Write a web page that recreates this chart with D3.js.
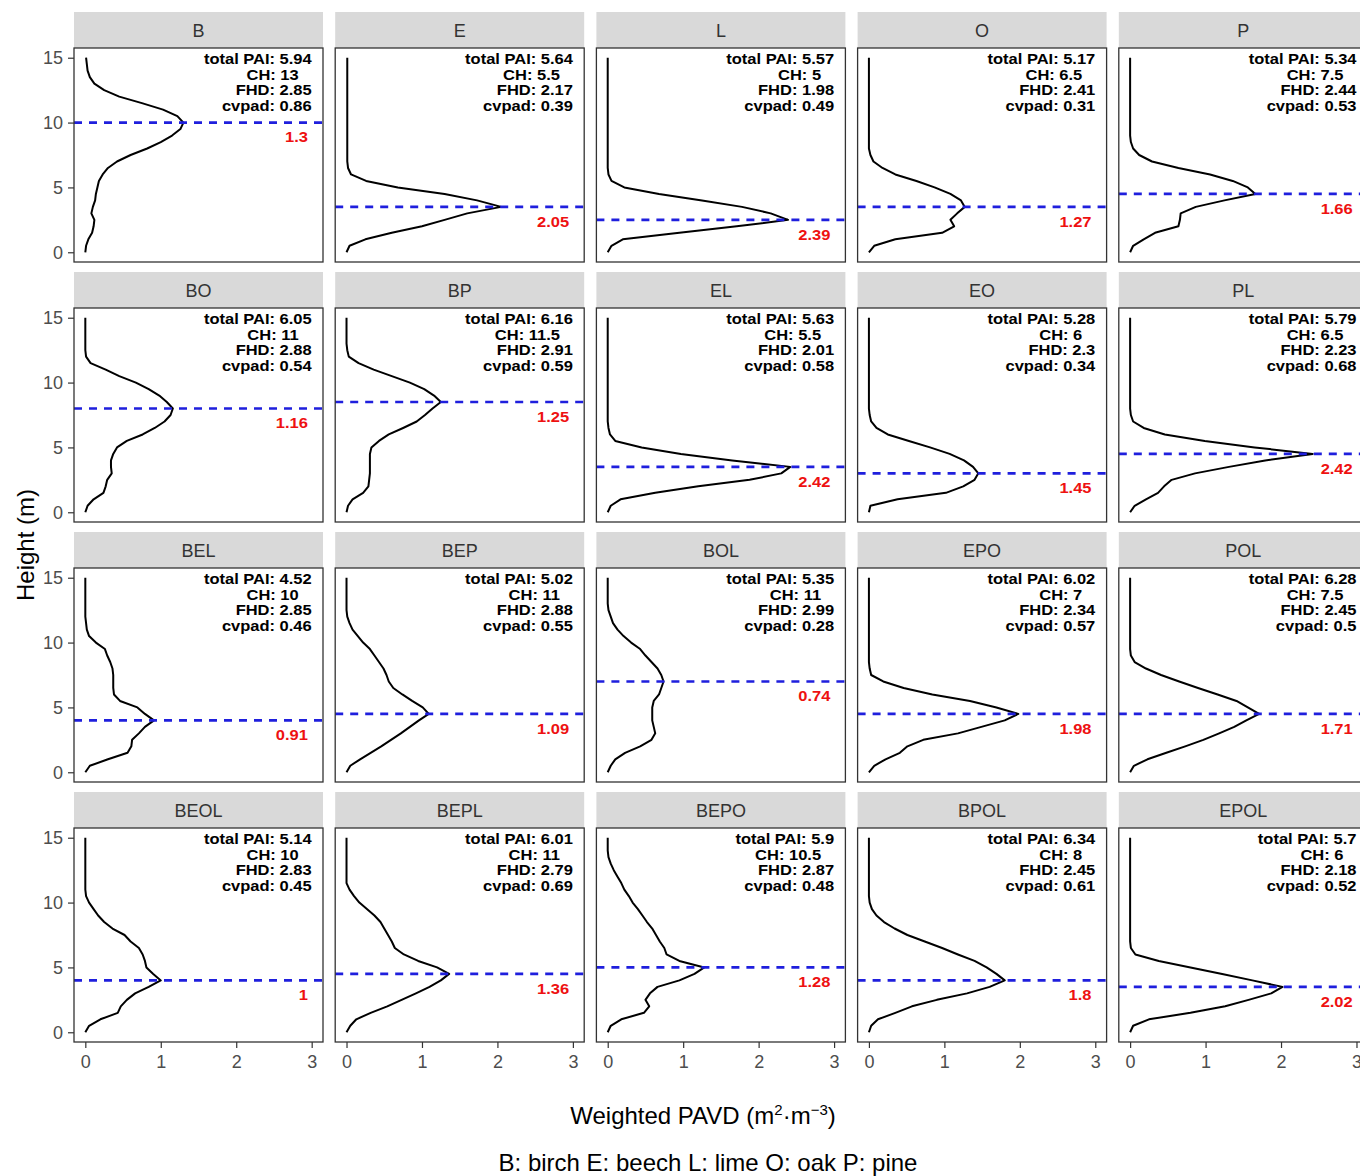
<!DOCTYPE html>
<html>
<head>
<meta charset="utf-8">
<script src="https://cdn.jsdelivr.net/npm/d3@7"></script>
<style>
  body { margin: 0; background: #fff; }
  text { font-family: "Liberation Sans", Arial, sans-serif; }
</style>
</head>
<body>
<div id="chart"></div>
<script>
// heights (m) at which the PAVD profiles are sampled
const heights = [0, 0.5, 1, 1.5, 2, 2.5, 3, 3.5, 4, 4.5, 5, 5.5, 6, 6.5, 7, 7.5,
                 8, 8.5, 9, 9.5, 10, 10.5, 11, 11.5, 12, 12.5, 13, 13.5, 14, 14.5, 15];

const panels = ["B", "E", "L", "O", "P", "BO", "BP", "EL", "EO", "PL",
                "BEL", "BEP", "BOL", "EPO", "POL", "BEOL", "BEPL", "BEPO", "BPOL", "EPOL"];

const totalPAI = [5.94, 5.64, 5.57, 5.17, 5.34, 6.05, 6.16, 5.63, 5.28, 5.79,
                  4.52, 5.02, 5.35, 6.02, 6.28, 5.14, 6.01, 5.9, 6.34, 5.7];
const canopyHeight = [13, 5.5, 5, 6.5, 7.5, 11, 11.5, 5.5, 6, 6.5,
                      10, 11, 11, 7, 7.5, 10, 11, 10.5, 8, 6];
const fhd = [2.85, 2.17, 1.98, 2.41, 2.44, 2.88, 2.91, 2.01, 2.3, 2.23,
             2.85, 2.88, 2.99, 2.34, 2.45, 2.83, 2.79, 2.87, 2.45, 2.18];
const cvpad = [0.86, 0.39, 0.49, 0.31, 0.53, 0.54, 0.59, 0.58, 0.34, 0.68,
               0.46, 0.55, 0.28, 0.57, 0.5, 0.45, 0.69, 0.48, 0.61, 0.52];
const peakPAVD = [1.3, 2.05, 2.39, 1.27, 1.66, 1.16, 1.25, 2.42, 1.45, 2.42,
                  0.91, 1.09, 0.74, 1.98, 1.71, 1, 1.36, 1.28, 1.8, 2.02];
const peakHeight = [10, 3.5, 2.5, 3.5, 4.5, 8, 8.5, 3.5, 3, 4.5,
                    4, 4.5, 7, 4.5, 4.5, 4, 4.5, 5, 4, 3.5];

// weighted PAVD profiles, one value per height above
const pavd_B    = [0, 0.01, 0.04, 0.09, 0.11, 0.12, 0.08, 0.1, 0.13, 0.14, 0.16, 0.18, 0.23, 0.3, 0.42, 0.6, 0.82, 1.0, 1.15, 1.26, 1.3, 1.22, 1.03, 0.75, 0.45, 0.25, 0.12, 0.06, 0.03, 0.02, 0.01];
const pavd_E    = [0, 0.04, 0.25, 0.6, 1.0, 1.3, 1.6, 2.05, 1.73, 1.3, 0.68, 0.26, 0.06, 0.02, 0.01, 0.01, 0.01, 0.01, 0.01, 0.01, 0.01, 0.01, 0.01, 0.01, 0.01, 0.01, 0.01, 0.01, 0.01, 0.01, 0.01];
const pavd_L    = [0, 0.05, 0.2, 0.95, 1.71, 2.39, 2.16, 1.78, 1.25, 0.68, 0.22, 0.05, 0.01, 0, 0, 0, 0, 0, 0, 0, 0, 0, 0, 0, 0, 0, 0, 0, 0, 0, 0];
const pavd_O    = [0, 0.07, 0.35, 0.97, 1.13, 1.08, 1.17, 1.27, 1.22, 1.08, 0.87, 0.63, 0.35, 0.18, 0.06, 0.02, 0, 0, 0, 0, 0, 0, 0, 0, 0, 0, 0, 0, 0, 0, 0];
const pavd_P    = [0, 0.04, 0.18, 0.33, 0.64, 0.66, 0.67, 0.87, 1.25, 1.66, 1.56, 1.36, 1.06, 0.64, 0.29, 0.12, 0.04, 0.01, 0, 0, 0, 0, 0, 0, 0, 0, 0, 0, 0, 0, 0];
const pavd_BO   = [0, 0.03, 0.11, 0.24, 0.27, 0.29, 0.35, 0.34, 0.34, 0.37, 0.42, 0.55, 0.76, 0.92, 1.05, 1.13, 1.16, 1.08, 0.98, 0.84, 0.67, 0.45, 0.27, 0.07, 0.01, 0, 0, 0, 0, 0, 0];
const pavd_BP   = [0, 0.02, 0.08, 0.22, 0.29, 0.3, 0.31, 0.31, 0.31, 0.31, 0.33, 0.43, 0.56, 0.75, 0.93, 1.04, 1.14, 1.25, 1.16, 1.03, 0.84, 0.6, 0.36, 0.16, 0.03, 0.01, 0, 0, 0, 0, 0];
const pavd_EL   = [0, 0.04, 0.17, 0.63, 1.2, 1.88, 2.3, 2.42, 1.65, 0.97, 0.45, 0.1, 0.03, 0.01, 0, 0, 0, 0, 0, 0, 0, 0, 0, 0, 0, 0, 0, 0, 0, 0, 0];
const pavd_EO   = [0, 0.02, 0.38, 1.02, 1.25, 1.4, 1.45, 1.38, 1.26, 1.07, 0.81, 0.53, 0.25, 0.1, 0.03, 0.01, 0, 0, 0, 0, 0, 0, 0, 0, 0, 0, 0, 0, 0, 0, 0];
const pavd_PL   = [0, 0.06, 0.21, 0.37, 0.45, 0.55, 0.86, 1.31, 1.79, 2.42, 1.65, 0.99, 0.46, 0.18, 0.04, 0.01, 0, 0, 0, 0, 0, 0, 0, 0, 0, 0, 0, 0, 0, 0, 0];
const pavd_BEL  = [0, 0.06, 0.3, 0.56, 0.61, 0.62, 0.71, 0.79, 0.91, 0.79, 0.69, 0.46, 0.38, 0.37, 0.37, 0.37, 0.36, 0.33, 0.29, 0.26, 0.14, 0.05, 0.02, 0.01, 0, 0, 0, 0, 0, 0, 0];
const pavd_BEP  = [0, 0.05, 0.18, 0.32, 0.46, 0.59, 0.72, 0.84, 0.96, 1.09, 1.01, 0.87, 0.74, 0.62, 0.56, 0.53, 0.49, 0.43, 0.37, 0.31, 0.22, 0.15, 0.08, 0.04, 0.01, 0, 0, 0, 0, 0, 0];
const pavd_BOL  = [0, 0.04, 0.1, 0.23, 0.43, 0.58, 0.63, 0.61, 0.59, 0.59, 0.59, 0.61, 0.68, 0.71, 0.74, 0.71, 0.66, 0.58, 0.5, 0.43, 0.31, 0.21, 0.13, 0.07, 0.04, 0.01, 0, 0, 0, 0, 0];
const pavd_EPO  = [0, 0.07, 0.22, 0.41, 0.51, 0.72, 1.18, 1.49, 1.8, 1.98, 1.69, 1.34, 0.84, 0.46, 0.19, 0.03, 0.01, 0, 0, 0, 0, 0, 0, 0, 0, 0, 0, 0, 0, 0, 0];
const pavd_POL  = [0, 0.05, 0.23, 0.48, 0.73, 0.97, 1.18, 1.38, 1.54, 1.71, 1.56, 1.41, 1.16, 0.9, 0.65, 0.41, 0.21, 0.06, 0.01, 0, 0, 0, 0, 0, 0, 0, 0, 0, 0, 0, 0];
const pavd_BEOL = [0, 0.05, 0.2, 0.43, 0.47, 0.55, 0.66, 0.84, 1.0, 0.9, 0.81, 0.79, 0.76, 0.71, 0.6, 0.52, 0.36, 0.25, 0.17, 0.11, 0.05, 0.01, 0, 0, 0, 0, 0, 0, 0, 0, 0];
const pavd_BEPL = [0, 0.05, 0.13, 0.32, 0.54, 0.73, 0.92, 1.1, 1.25, 1.36, 1.2, 0.95, 0.76, 0.64, 0.6, 0.55, 0.5, 0.45, 0.37, 0.27, 0.17, 0.1, 0.04, 0, 0, 0, 0, 0, 0, 0, 0];
const pavd_BEPO = [0, 0.04, 0.18, 0.48, 0.55, 0.5, 0.56, 0.66, 0.95, 1.15, 1.28, 0.95, 0.78, 0.75, 0.69, 0.64, 0.59, 0.52, 0.46, 0.4, 0.33, 0.28, 0.22, 0.18, 0.13, 0.08, 0.04, 0.01, 0, 0, 0];
const pavd_BPOL = [0, 0.03, 0.12, 0.35, 0.57, 0.9, 1.3, 1.6, 1.8, 1.69, 1.56, 1.4, 1.18, 0.97, 0.74, 0.51, 0.34, 0.2, 0.1, 0.04, 0.01, 0, 0, 0, 0, 0, 0, 0, 0, 0, 0];
const pavd_EPOL = [0, 0.04, 0.25, 0.8, 1.26, 1.57, 1.87, 2.02, 1.62, 1.22, 0.8, 0.38, 0.07, 0.01, 0, 0, 0, 0, 0, 0, 0, 0, 0, 0, 0, 0, 0, 0, 0, 0, 0];

const profiles = [pavd_B, pavd_E, pavd_L, pavd_O, pavd_P, pavd_BO, pavd_BP, pavd_EL, pavd_EO, pavd_PL,
                  pavd_BEL, pavd_BEP, pavd_BOL, pavd_EPO, pavd_POL, pavd_BEOL, pavd_BEPL, pavd_BEPO, pavd_BPOL, pavd_EPOL];

const xTicks = [0, 1, 2, 3];
const yTicks = [0, 5, 10, 15];

const width = 1360, height = 1176;
const nCols = 5;
const panelW = 249, panelH = 214, stripH = 36;
const colLeft = c => 74 + c * 261.2;
const rowTop = r => 12 + r * 260;
const SX = 1.1; // panel text in the reference is a bit wide

const svg = d3.select("#chart")
    .append("svg")
    .attr("width", width)
    .attr("height", height)
    .style("display", "block");

svg.append("rect").attr("width", width).attr("height", height).attr("fill", "#fff");

function stretchedText(g, x, y, str) {
    return g.append("text")
        .attr("transform", `translate(${x},${y}) scale(${SX},1)`)
        .text(str);
}

const line = d3.line().curve(d3.curveLinear);

panels.forEach((name, i) => {
    const col = i % nCols, row = Math.floor(i / nCols);
    const left = colLeft(col), top = rowTop(row) + stripH;

    const x = d3.scaleLinear().domain([-0.15, 3.15]).range([left, left + panelW]);
    const y = d3.scaleLinear().domain([-0.75, 15.75]).range([top + panelH, top]);

    const g = svg.append("g");

    // strip
    g.append("rect")
        .attr("x", left).attr("y", rowTop(row))
        .attr("width", panelW).attr("height", stripH)
        .attr("fill", "#d9d9d9");
    g.append("text")
        .attr("x", left + panelW / 2)
        .attr("y", rowTop(row) + stripH / 2 + 7)
        .attr("text-anchor", "middle")
        .attr("font-size", "18px")
        .attr("fill", "#333")
        .text(name);

    // profile
    const pts = heights.map((h, k) => [x(profiles[i][k]), y(h)]);
    g.append("path")
        .attr("d", line(pts))
        .attr("fill", "none")
        .attr("stroke", "#000")
        .attr("stroke-width", 2)
        .attr("stroke-linejoin", "round");

    // peak height line
    g.append("line")
        .attr("x1", left).attr("x2", left + panelW)
        .attr("y1", y(peakHeight[i])).attr("y2", y(peakHeight[i]))
        .attr("stroke", "#1f1fdd")
        .attr("stroke-width", 2.6)
        .attr("stroke-dasharray", "8,7");

    // stats (the CH line sits a little left of the others)
    const stats = [`total PAI: ${totalPAI[i]}`, `CH: ${canopyHeight[i]}`, `FHD: ${fhd[i]}`, `cvpad: ${cvpad[i]}`];
    const tg = g.append("g")
        .attr("font-size", "15px")
        .attr("font-weight", "bold")
        .attr("fill", "#000")
        .attr("text-anchor", "end");
    stats.forEach((s, k) => stretchedText(tg, x(3) - (k === 1 ? 13 : 0), top + 16 + k * 15.6, s));

    stretchedText(g, x(2.95), y(peakHeight[i] - 1.1) + 5.5, String(peakPAVD[i]))
        .attr("font-size", "15px")
        .attr("font-weight", "bold")
        .attr("fill", "#ee1111")
        .attr("text-anchor", "end");

    // panel border
    g.append("rect")
        .attr("x", left).attr("y", top)
        .attr("width", panelW).attr("height", panelH)
        .attr("fill", "none")
        .attr("stroke", "#333")
        .attr("stroke-width", 1.3);

    // axes
    if (col === 0) {
        const ay = g.append("g")
            .attr("transform", `translate(${left},0)`)
            .call(d3.axisLeft(y).tickValues(yTicks).tickSize(6).tickPadding(5).tickFormat(d3.format("d")));
        ay.select(".domain").remove();
        ay.selectAll("line").attr("stroke", "#333").attr("stroke-width", 1.2);
        ay.selectAll("text").attr("font-size", "18px").attr("fill", "#4d4d4d")
            .attr("font-family", "Liberation Sans, Arial, sans-serif");
    }
    if (row === 3) {
        const ax = g.append("g")
            .attr("transform", `translate(0,${top + panelH})`)
            .call(d3.axisBottom(x).tickValues(xTicks).tickSize(6).tickPadding(7).tickFormat(d3.format("d")));
        ax.select(".domain").remove();
        ax.selectAll("line").attr("stroke", "#333").attr("stroke-width", 1.2);
        ax.selectAll("text").attr("font-size", "18px").attr("fill", "#4d4d4d")
            .attr("font-family", "Liberation Sans, Arial, sans-serif");
    }
});

// axis titles
svg.append("text")
    .attr("transform", "translate(34,545) rotate(-90)")
    .attr("text-anchor", "middle")
    .attr("font-size", "24px")
    .attr("fill", "#000")
    .text("Height (m)");

const xt = svg.append("text")
    .attr("x", 703).attr("y", 1124)
    .attr("text-anchor", "middle")
    .attr("font-size", "24px")
    .attr("fill", "#000");
xt.append("tspan").text("Weighted PAVD (m");
xt.append("tspan").attr("font-size", "15px").attr("dy", -9).text("2");
xt.append("tspan").attr("dy", 9).text("·m");
xt.append("tspan").attr("font-size", "15px").attr("dy", -9).text("−3");
xt.append("tspan").attr("dy", 9).text(")");

svg.append("text")
    .attr("x", 708).attr("y", 1171)
    .attr("text-anchor", "middle")
    .attr("font-size", "24px")
    .attr("fill", "#000")
    .text("B: birch E: beech L: lime O: oak P: pine");
</script>
</body>
</html>
